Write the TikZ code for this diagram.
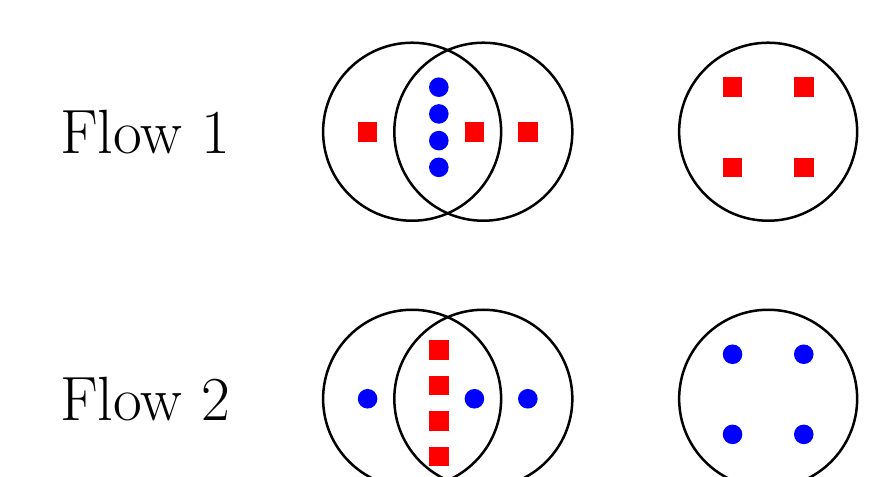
\documentclass[tikz,border=0pt]{standalone}
\tikzset{carre/.style={fill=red,draw=none},
    rond/.style={fill=blue,draw=none},
    cercle/.style={line width=0.8pt}}

\begin{document}
\begin{tikzpicture}
    \useasboundingbox (-4.63,1.48) rectangle (5.38,-3.87);

    % Flow 1
    \node (f1) at (-3,0) {\fontsize{20}{24}\selectfont Flow 1};
    \draw[cercle] (0,0) circle (1);
    \draw[cercle] (0.8,0) circle (1);
    \foreach \x in {-0.5,0.7,1.3}
        \fill[carre] (\x-0.11,-0.11) rectangle (\x+0.11,0.11);
    \foreach \y in {0.5,0.2,-0.1,-0.4}
        \fill[rond] (0.3,\y) circle (0.11);
    \draw[cercle] (4,0) circle (1);
    \foreach \x in {3.6,4.4}
        \foreach \y in {0.5,-0.4}
            \fill[carre] (\x-0.11,\y-0.11) rectangle (\x+0.11,\y+0.11);

    % Flow 2
    \node (f2) at (-3,-3) {\fontsize{20}{24}\selectfont Flow 2};
    \draw[cercle] (0,-3) circle (1);
    \draw[cercle] (0.8,-3) circle (1);
    \foreach \x in {-0.5,0.7,1.3}
        \fill[rond] (\x,-3) circle (0.11);
    \foreach \y in {-2.45,-2.85,-3.25,-3.65}
        \fill[carre] (0.3-0.11,\y-0.11) rectangle (0.3+0.11,\y+0.11);
    \draw[cercle] (4,-3) circle (1);
    \foreach \x in {3.6,4.4}
        \foreach \y in {-2.5,-3.4}
            \fill[rond] (\x,\y) circle (0.11);
\end{tikzpicture}
\end{document}
